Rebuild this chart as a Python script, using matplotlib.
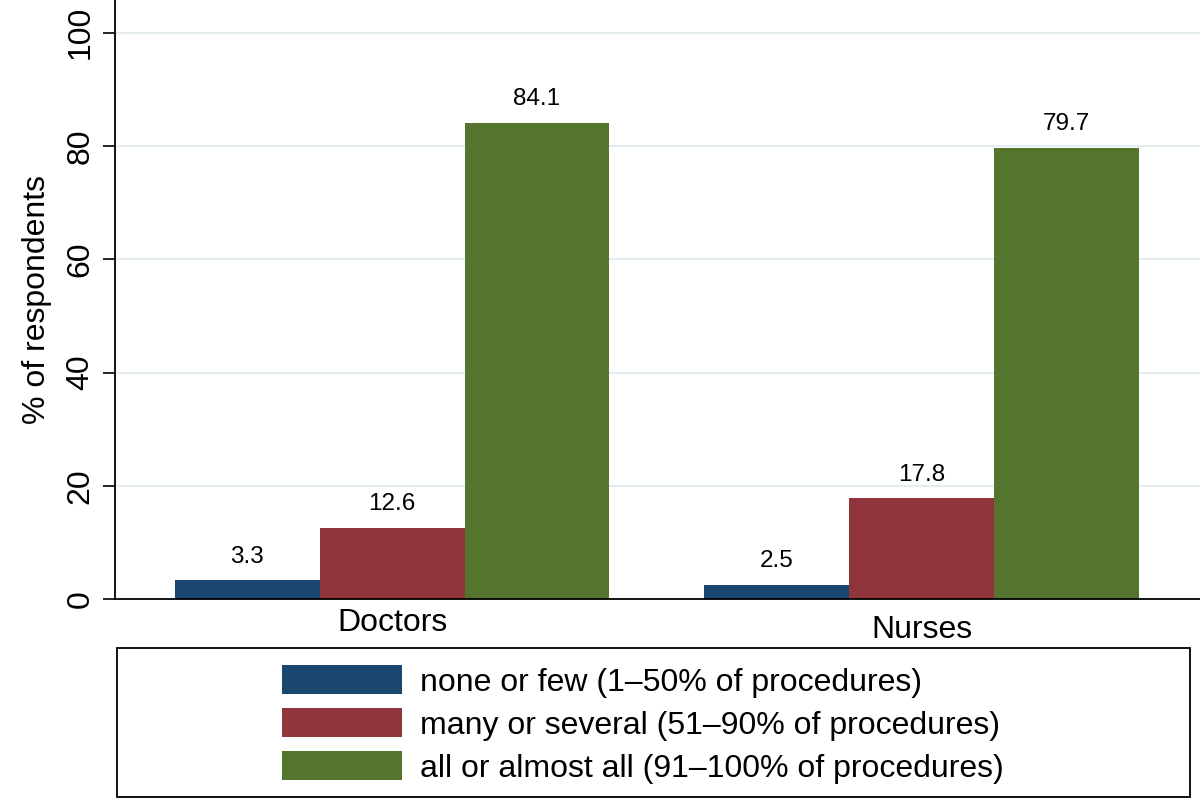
import matplotlib as mpl
mpl.use("Agg")
import matplotlib.pyplot as plt
from matplotlib.patches import Rectangle
import numpy as np

plt.rcParams["font.family"] = ["Liberation Sans", "DejaVu Sans"]

# data
groups = ["Doctors", "Nurses"]
categories = ["none or few (1\u201350% of procedures)",
              "many or several (51\u201390% of procedures)",
              "all or almost all (91\u2013100% of procedures)"]
none_few = [3.3, 2.5]
many_several = [12.6, 17.8]
all_almost = [84.1, 79.7]
colors = ["#1a476f", "#90353b", "#55752f"]

fig = plt.figure(figsize=(12, 7.98), dpi=100)
ax = fig.add_axes([0.0958, 0.2494, 0.9042, 0.7506])

x = np.arange(len(groups))
w = 0.2736
series = [none_few, many_several, all_almost]
for i, vals in enumerate(series):
    pos = x + (i - 1) * w
    bars = ax.bar(pos, vals, width=w, color=colors[i], label=categories[i], zorder=2)
    for b, v in zip(bars, vals):
        ax.annotate("%.1f" % v, (b.get_x() + b.get_width() / 2, v),
                    xytext=(0, 9), textcoords="offset points",
                    ha="center", va="bottom", fontsize=17.5)

ax.set_xlim(-0.523, 1.525)
ax.set_ylim(0, 105.8)
ax.set_yticks([0, 20, 40, 60, 80, 100])
ax.tick_params(axis="y", labelsize=23, length=9, width=1.2, labelrotation=90, pad=5)
for lab in ax.get_yticklabels():
    lab.set_va("center")
ax.set_xticks([])
ax.yaxis.grid(True, color="#e6edf2", linewidth=1.5, zorder=0)
ax.set_axisbelow(True)
for s in ["top", "right"]:
    ax.spines[s].set_visible(False)
ax.spines["left"].set_linewidth(1.3)
ax.spines["bottom"].set_linewidth(1.3)
ax.set_ylabel("% of respondents", fontsize=23, labelpad=10)

# group labels (Stata staggers them slightly)
ax.text(0, -4.2, groups[0], ha="center", va="center", fontsize=23)
ax.text(1, -5.5, groups[1], ha="center", va="center", fontsize=23)

# legend box
fig.patches.append(Rectangle((117 / 1200, 1 / 798), 1073 / 1200, 149 / 798,
                             transform=fig.transFigure, fill=False,
                             edgecolor="black", linewidth=1.3))
handles, labels = ax.get_legend_handles_labels()
leg = fig.legend(handles, labels, loc="upper left",
                 bbox_to_anchor=(282 / 1200, (798 - 665) / 798),
                 ncol=1, fontsize=23, frameon=False, borderpad=0, borderaxespad=0,
                 handlelength=3.76, handleheight=1.03, labelspacing=0.33,
                 handletextpad=0.56)

fig.savefig("out.png", dpi=100)
